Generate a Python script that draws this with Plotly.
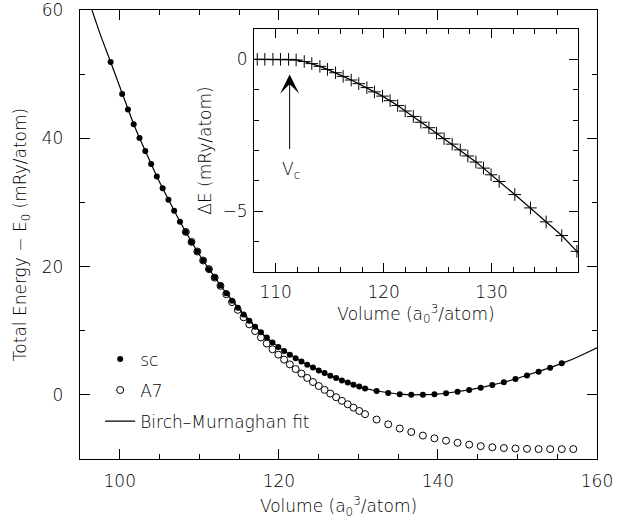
import plotly.graph_objects as go

# ---------------- data ----------------
# sc structure: volume (a0^3/atom) and total energy - E0 (mRy/atom)
sc_volume = [98.85, 100.30, 101.03, 101.75, 102.48, 103.21, 103.94, 104.66, 105.39, 106.12,
             106.84, 107.57, 108.30, 109.02, 109.75, 110.48, 111.21, 111.93, 112.66, 113.39,
             114.11, 114.84, 115.57, 116.29, 117.02, 117.75, 118.48, 119.20, 119.93, 120.66,
             121.38, 122.11, 122.84, 123.57, 124.29, 125.02, 125.75, 126.47, 127.20, 127.93,
             128.66, 129.38, 130.11, 130.84, 132.29, 133.75, 135.20, 136.65, 138.11, 139.56,
             141.02, 142.47, 143.93, 145.38, 146.84, 148.29, 149.75, 151.20, 152.66, 154.11,
             155.57]
sc_energy = [51.9, 46.9, 44.5, 42.2, 40.05, 38.0, 36.0, 34.05, 32.2, 30.4,
             28.7, 27.0, 25.4, 23.85, 22.35, 20.95, 19.6, 18.3, 17.06, 15.84,
             14.69, 13.58, 12.53, 11.55, 10.62, 9.75, 8.93, 8.18, 7.48, 6.85,
             6.27, 5.72, 5.20, 4.71, 4.25, 3.81, 3.39, 2.99, 2.61, 2.25,
             1.91, 1.59, 1.29, 1.01, 0.60, 0.30, 0.10, 0.01, 0.0, 0.09,
             0.25, 0.48, 0.77, 1.12, 1.52, 1.97, 2.47, 3.02, 3.61, 4.24,
             4.91]

# A7 structure
a7_volume = [108.30, 109.02, 109.75, 110.48, 111.21, 111.93, 112.66, 113.39, 114.11, 114.84,
             115.57, 116.29, 117.02, 117.75, 118.48, 119.20, 119.93, 120.66, 121.38, 122.11,
             122.84, 123.57, 124.29, 125.02, 125.75, 126.47, 127.20, 127.93, 128.66, 129.38,
             130.11, 130.84, 132.29, 133.75, 135.20, 136.65, 138.11, 139.56, 141.02, 142.47,
             143.93, 145.38, 146.84, 148.29, 149.75, 151.20, 152.66, 154.11, 155.57, 157.02]
a7_energy = [25.4, 23.85, 22.35, 20.95, 19.6, 18.28, 16.99, 15.70, 14.46, 13.25,
             12.09, 10.99, 9.94, 8.95, 8.00, 7.11, 6.27, 5.49, 4.75, 4.02,
             3.32, 2.64, 2.00, 1.38, 0.78, 0.20, -0.37, -0.93, -1.47, -1.99,
             -2.51, -3.01, -3.85, -4.59, -5.25, -5.79, -6.35, -6.78, -7.14, -7.47,
             -7.76, -8.00, -8.17, -8.29, -8.36, -8.42, -8.45, -8.46, -8.46, -8.45]

# Birch-Murnaghan fit line beyond the sc data
fit_left_volume = [96.5, 97.6]
fit_left_energy = [60.0, 56.0]
fit_right_volume = [157.0, 158.5, 160.0]
fit_right_energy = [5.6, 6.45, 7.35]

# inset: Delta E (mRy/atom)
dE_volume = [108.3, 109.0, 109.75, 110.45, 111.2, 111.9, 112.65, 113.35, 114.1, 114.8,
             115.55, 116.25, 117.0, 117.7, 118.45, 119.15, 119.9, 120.6, 121.3, 122.0,
             122.75, 123.45, 124.2, 124.9, 125.6, 126.35, 127.1, 127.8, 128.55, 129.25,
             129.95, 130.7, 132.15, 133.6, 135.05, 136.5, 137.9]
dE_value = [0.0, 0.0, 0.0, 0.0, 0.0, -0.02, -0.07, -0.14, -0.23, -0.33,
            -0.44, -0.56, -0.68, -0.80, -0.93, -1.07, -1.21, -1.36, -1.52, -1.70,
            -1.88, -2.07, -2.25, -2.43, -2.61, -2.79, -2.98, -3.18, -3.38, -3.58,
            -3.80, -4.02, -4.45, -4.89, -5.35, -5.80, -6.32]
dE_fit_start = (108.0, 0.0)
dE_fit_end = (138.0, -6.36)

vc_arrow_tip = (111.3, -0.5)
vc_arrow_tail = (111.3, -3.0)
vc_label_pos = (111.4, -3.65)

# ---------------- figure ----------------
FONT = "DejaVu Sans"
FS = 17
BLACK = "#000000"


def fnt(size=FS):
    return dict(family=FONT, size=size, color=BLACK, weight=200)


fig = go.Figure()

fig.add_trace(go.Scatter(
    x=a7_volume, y=a7_energy, mode="markers", name="A7",
    legendgroup="g2", legendrank=2,
    marker=dict(symbol="circle", size=7, color="white",
                line=dict(color=BLACK, width=1)),
    xaxis="x", yaxis="y"))

fig.add_trace(go.Scatter(
    x=fit_left_volume + sc_volume + fit_right_volume,
    y=fit_left_energy + sc_energy + fit_right_energy,
    mode="lines", name="Birch\u2013Murnaghan fit",
    legendgroup="g3", legendrank=3,
    line=dict(color=BLACK, width=1.2),
    xaxis="x", yaxis="y"))

fig.add_trace(go.Scatter(
    x=sc_volume, y=sc_energy, mode="markers", name="sc",
    legendgroup="g1", legendrank=1,
    marker=dict(symbol="circle", size=6, color=BLACK),
    xaxis="x", yaxis="y"))

# inset
fig.add_trace(go.Scatter(
    x=[dE_fit_start[0]] + dE_volume + [dE_fit_end[0]],
    y=[dE_fit_start[1]] + dE_value + [dE_fit_end[1]],
    mode="lines", showlegend=False,
    line=dict(color=BLACK, width=1.2),
    xaxis="x2", yaxis="y2"))
fig.add_trace(go.Scatter(
    x=dE_volume, y=dE_value, mode="markers", showlegend=False,
    marker=dict(symbol="cross-thin", size=9, line=dict(color=BLACK, width=1)),
    xaxis="x2", yaxis="y2"))

common = dict(showline=True, linecolor=BLACK, linewidth=1.3, mirror="ticks",
              ticks="inside", tickcolor=BLACK, tickwidth=1, showgrid=False,
              zeroline=False, automargin=False, ticklabeloverflow="allow",
              tickfont=fnt())

vol_title = "Volume (a<sub>0</sub><sup>3</sup>/atom)"

fig.update_layout(
    width=617, height=524,
    margin=dict(l=80, r=20, t=10, b=65, autoexpand=False),
    paper_bgcolor="white", plot_bgcolor="white",
    font=fnt(),
    xaxis=dict(domain=[0, 1], range=[95, 160], tick0=100, dtick=20, ticklen=10,
               minor=dict(dtick=5, ticklen=5, ticks="inside", tickcolor=BLACK, showgrid=False),
               title=dict(text=vol_title, font=fnt(), standoff=10),
               ticklabelstandoff=6, anchor="y", **common),
    yaxis=dict(domain=[0, 1], range=[-10, 60], tick0=0, dtick=20, ticklen=10,
               minor=dict(dtick=10, ticklen=5, ticks="inside", tickcolor=BLACK, showgrid=False),
               title=dict(text="Total Energy \u2212 E<sub>0</sub> (mRy/atom)",
                          font=fnt(), standoff=10),
               ticklabelstandoff=12, anchor="x", **common),
    xaxis2=dict(domain=[0.3366, 0.9632], range=[108, 138], tick0=110, dtick=10, ticklen=9,
                minor=dict(dtick=2, ticklen=5, ticks="inside", tickcolor=BLACK, showgrid=False),
                title=dict(text=vol_title, font=fnt(), standoff=6),
                ticklabelstandoff=4, anchor="y2", **common),
    yaxis2=dict(domain=[0.4165, 0.9577], range=[-7, 1], tick0=0, dtick=5, ticklen=9,
                minor=dict(dtick=1, ticklen=5, ticks="inside", tickcolor=BLACK, showgrid=False),
                title=dict(text="\u0394E (mRy/atom)", font=fnt(), standoff=6),
                ticklabelstandoff=2, anchor="x2", **common),
    showlegend=True,
    legend=dict(x=0.039, y=0.262, xanchor="left", yanchor="top",
                bgcolor="rgba(0,0,0,0)", borderwidth=0,
                font=fnt(),
                tracegroupgap=6, itemsizing="trace"),
    annotations=[
        dict(x=vc_arrow_tip[0], y=vc_arrow_tip[1], xref="x2", yref="y2",
             ax=vc_arrow_tail[0], ay=vc_arrow_tail[1], axref="x2", ayref="y2",
             text="", showarrow=True, arrowhead=3, arrowsize=3.2, arrowwidth=1,
             arrowcolor=BLACK, standoff=0, startstandoff=0),
        dict(x=vc_label_pos[0], y=vc_label_pos[1], xref="x2", yref="y2",
             text="V<sub>c</sub>", showarrow=False, font=fnt()),
    ],
)

fig.write_html("out.html",
               config={"displayModeBar": False},
               post_script="document.body.style.margin='0px';document.body.style.padding='0px';")
